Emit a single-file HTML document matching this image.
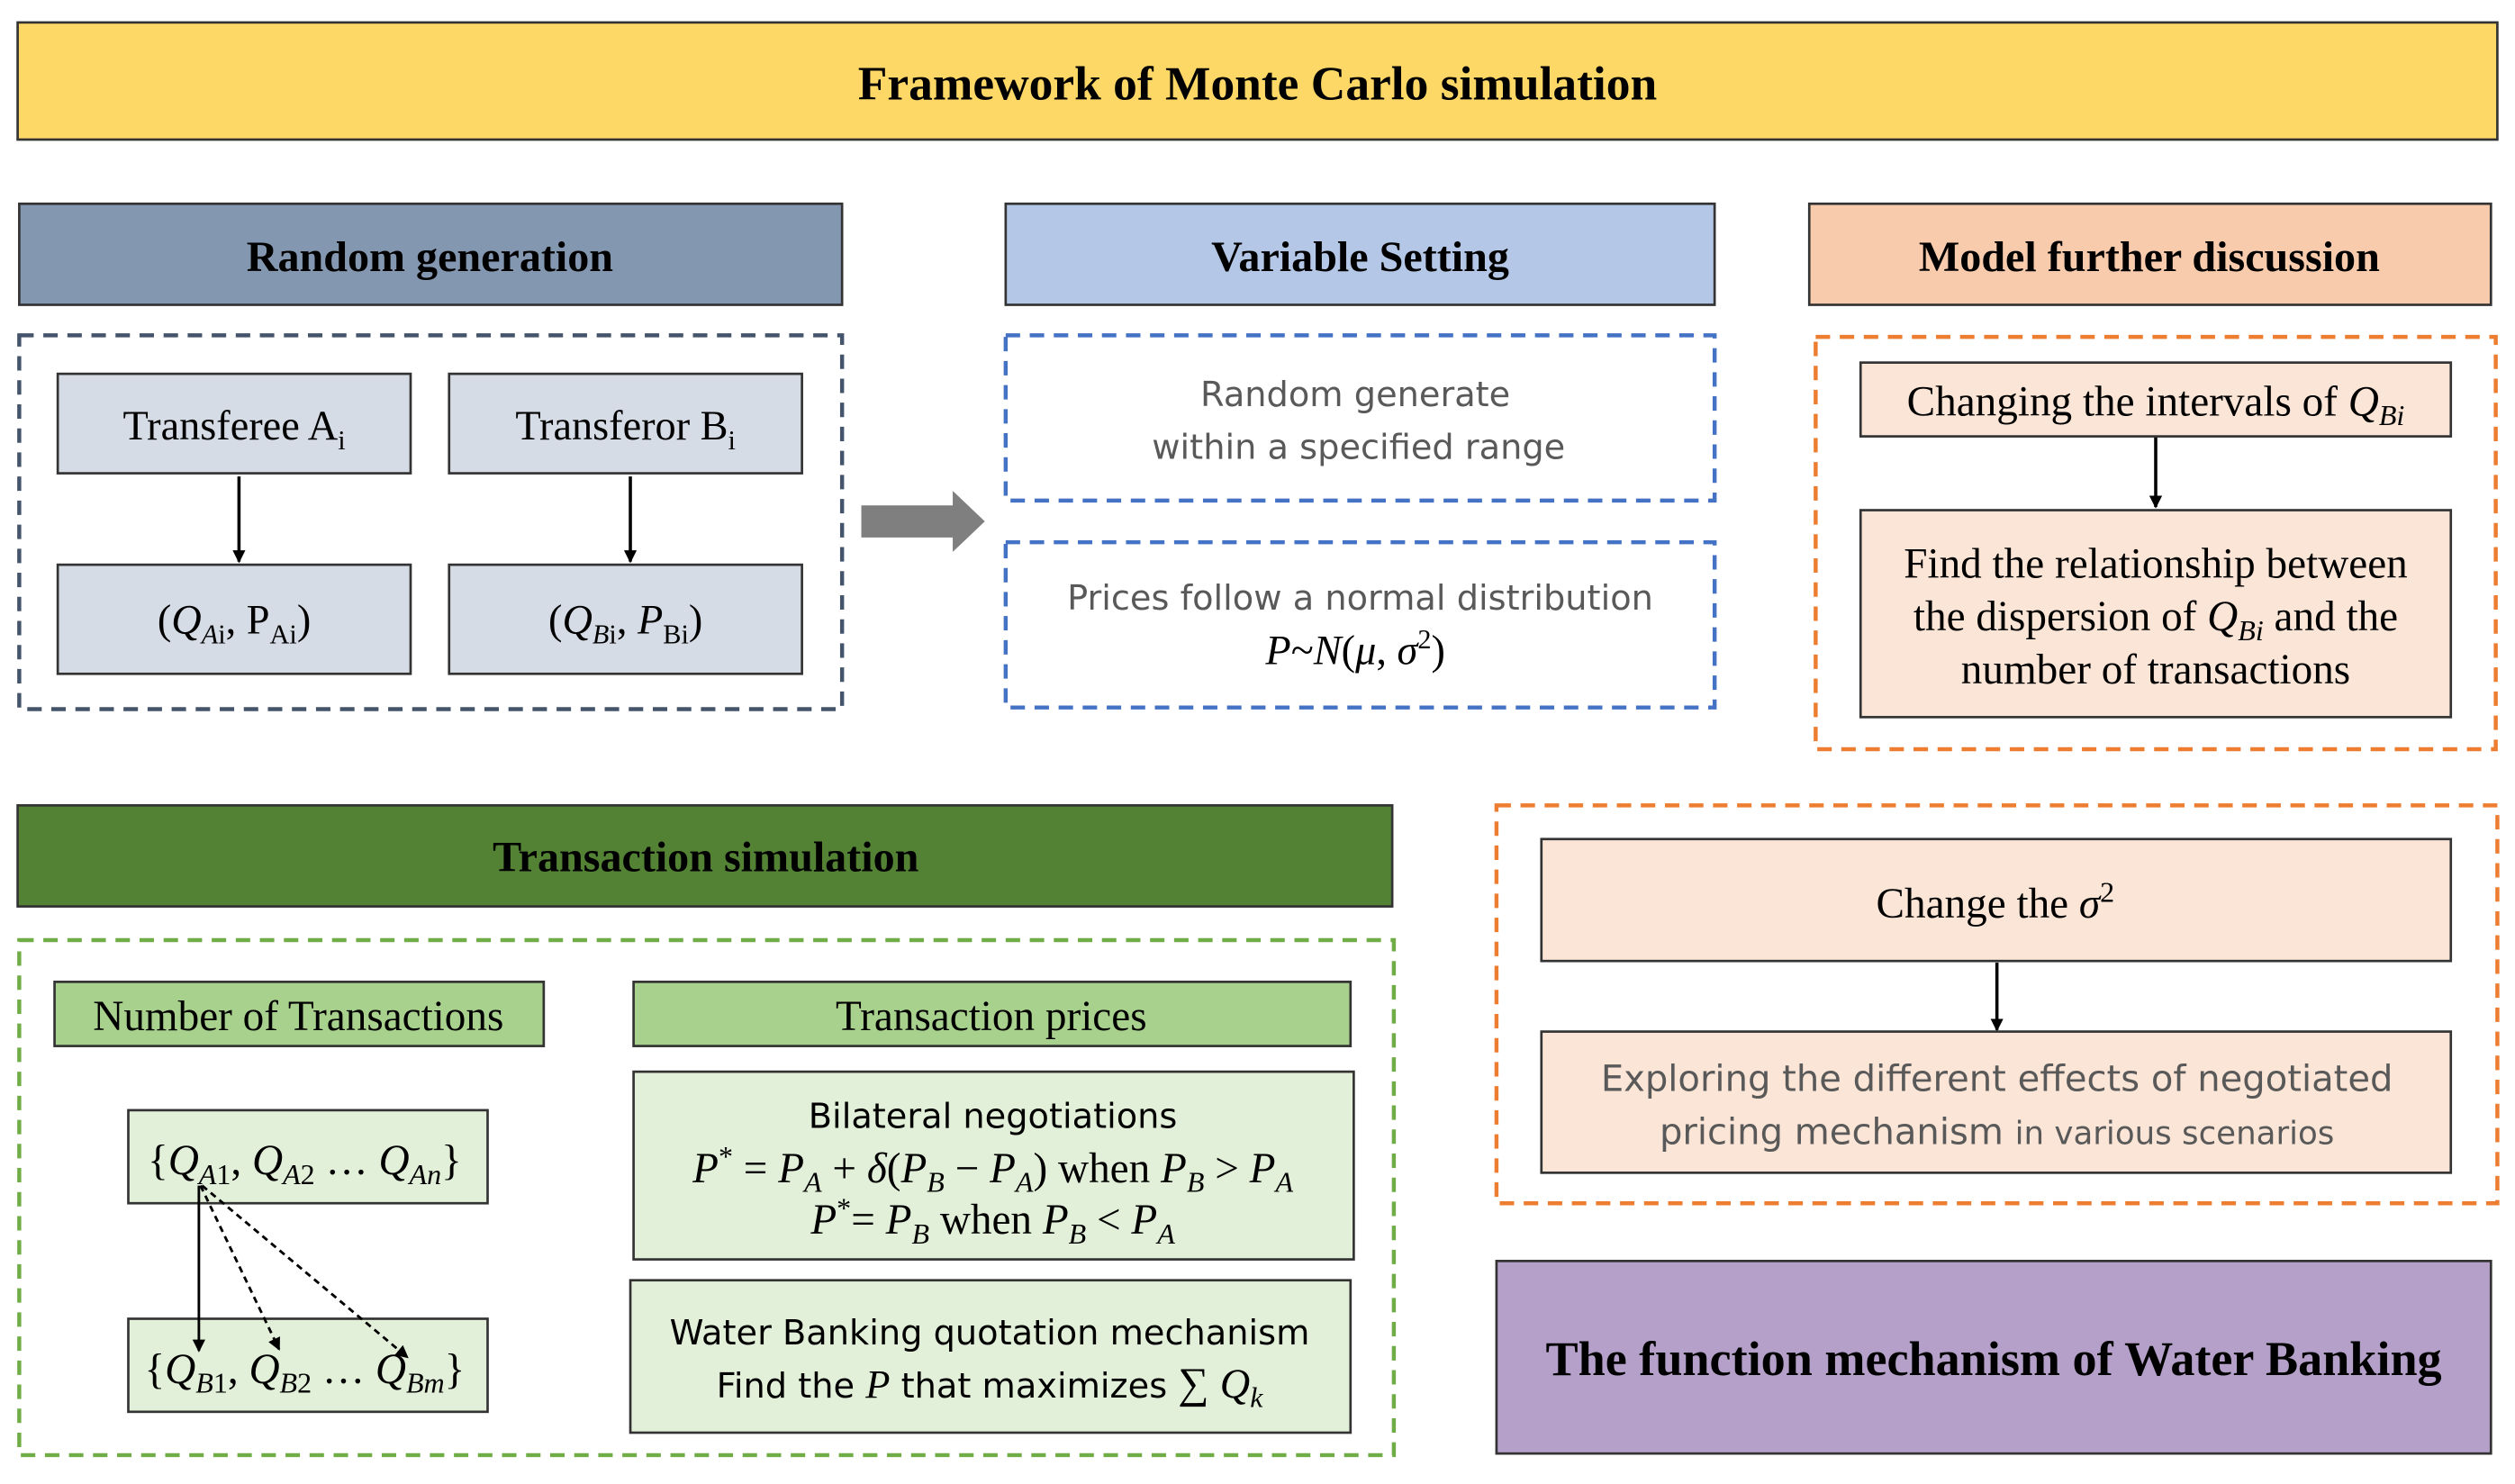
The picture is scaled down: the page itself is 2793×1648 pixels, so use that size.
<!DOCTYPE html>
<html><head><meta charset="utf-8"><style>
html,body{margin:0;padding:0;background:#fff;}
svg{display:block;}
.s{font-family:"Liberation Serif",serif;}
.b{font-weight:bold;}
.c{font-family:"DejaVu Sans","Liberation Sans",sans-serif;fill:#595959;}
.m{font-family:"Liberation Serif",serif;font-style:italic;}
</style></head><body>
<svg width="2793" height="1648" viewBox="0 0 1568 925" preserveAspectRatio="none" xmlns="http://www.w3.org/2000/svg">
<defs>
<marker id="ah" markerWidth="8" markerHeight="8" refX="7" refY="4" orient="auto" markerUnits="userSpaceOnUse"><path d="M0,0 L8,4 L0,8 z" fill="#000"/></marker>
</defs>
<g stroke="#333" stroke-width="1.5">
<rect x="11" y="14" width="1546" height="73" fill="#FDD867"/>
<rect x="12" y="127" width="513" height="63" fill="#8497B0"/>
<rect x="627" y="127" width="442" height="63" fill="#B4C7E7"/>
<rect x="1128" y="127" width="425" height="63" fill="#F8CBAD"/>
<rect x="11" y="502" width="857" height="63" fill="#548235"/>
<rect x="933" y="786" width="620" height="120" fill="#B4A0C8"/>
</g>
<g class="s b" text-anchor="middle" fill="#000">
<text x="784" y="62" font-size="30">Framework of Monte Carlo simulation</text>
<text x="268" y="169" font-size="27">Random generation</text>
<text x="848" y="169" font-size="27">Variable Setting</text>
<text x="1340" y="169" font-size="27">Model further discussion</text>
<text x="440" y="543" font-size="27">Transaction simulation</text>
<text x="1243" y="857" font-size="30.4">The function mechanism of Water Banking</text>
</g>
<g fill="none" stroke-width="2.5" stroke-dasharray="9,6">
<rect x="12" y="209" width="513" height="233" stroke="#44546A"/>
<rect x="627" y="209" width="442" height="103" stroke="#4472C4"/>
<rect x="627" y="338" width="442" height="103" stroke="#4472C4"/>
<rect x="1132" y="210" width="424" height="257" stroke="#ED7D31"/>
<rect x="933" y="502" width="624" height="248" stroke="#ED7D31"/>
<rect x="12" y="586" width="857" height="321" stroke="#70AD47"/>
</g>
<g stroke="#333" stroke-width="1.5" fill="#D6DCE5">
<rect x="36" y="233" width="220" height="62"/>
<rect x="280" y="233" width="220" height="62"/>
<rect x="36" y="352" width="220" height="68"/>
<rect x="280" y="352" width="220" height="68"/>
</g>
<g class="s" font-size="26" text-anchor="middle">
<text x="146" y="274">Transferee A<tspan font-size="17" dy="6">i</tspan></text>
<text x="390" y="274">Transferor B<tspan font-size="17" dy="6">i</tspan></text>
<text x="146" y="395">(<tspan class="m">Q</tspan><tspan font-size="17" dy="6"><tspan class="m">A</tspan>i</tspan><tspan dy="-6">, P</tspan><tspan font-size="17" dy="6">Ai</tspan><tspan dy="-6">)</tspan></text>
<text x="390" y="395">(<tspan class="m">Q</tspan><tspan font-size="17" dy="6"><tspan class="m">B</tspan>i</tspan><tspan dy="-6">, </tspan><tspan class="m">P</tspan><tspan font-size="17" dy="6">Bi</tspan><tspan dy="-6">)</tspan></text>
</g>
<g stroke="#000" stroke-width="2" marker-end="url(#ah)">
<line x1="149" y1="297" x2="149" y2="350"/>
<line x1="393" y1="297" x2="393" y2="350"/>
<line x1="1344" y1="272" x2="1344" y2="316"/>
<line x1="1245" y1="600" x2="1245" y2="642"/>
</g>
<path d="M537,315 L594,315 L594,306 L614,325 L594,344 L594,335 L537,335 z" fill="#7F7F7F"/>
<g class="c" font-size="21.5" text-anchor="middle">
<text x="845" y="253">Random generate</text>
<text x="847" y="286">within a specified range</text>
<text x="848" y="380">Prices follow a normal distribution</text>
</g>
<text class="s" font-size="26" x="845" y="414" text-anchor="middle"><tspan class="m">P</tspan>~<tspan class="m">N</tspan>(<tspan class="m">μ</tspan>, <tspan class="m">σ</tspan><tspan font-size="17" dy="-10">2</tspan><tspan dy="10">)</tspan></text>
<g stroke="#333" stroke-width="1.5" fill="#FBE5D6">
<rect x="1160" y="226" width="368" height="46"/>
<rect x="1160" y="318" width="368" height="129"/>
<rect x="961" y="523" width="567" height="76"/>
<rect x="961" y="643" width="567" height="88"/>
</g>
<g class="s" font-size="26.5" text-anchor="middle">
<text x="1344" y="259">Changing the intervals  of <tspan class="m">Q</tspan><tspan class="m" font-size="18" dy="6">Bi</tspan></text>
<text x="1344" y="360">Find the relationship between</text>
<text x="1344" y="393">the dispersion of <tspan class="m">Q</tspan><tspan class="m" font-size="18" dy="6">Bi</tspan><tspan dy="-6"> and the</tspan></text>
<text x="1344" y="426">number of transactions</text>
<text x="1244" y="572">Change the <tspan class="m">σ</tspan><tspan font-size="18" dy="-10">2</tspan></text>
</g>
<g class="c" font-size="22.5" text-anchor="middle">
<text x="1245" y="680">Exploring the different effects of negotiated</text>
<text x="1245" y="713">pricing mechanism <tspan font-size="20">in various scenarios</tspan></text>
</g>
<g stroke="#333" stroke-width="1.5">
<rect x="34" y="612" width="305" height="40" fill="#A9D18E"/>
<rect x="395" y="612" width="447" height="40" fill="#A9D18E"/>
<rect x="80" y="692" width="224" height="58" fill="#E2F0D9"/>
<rect x="80" y="822" width="224" height="58" fill="#E2F0D9"/>
<rect x="395" y="668" width="449" height="117" fill="#E2F0D9"/>
<rect x="393" y="798" width="449" height="95" fill="#E2F0D9"/>
</g>
<g class="s" font-size="26.5" text-anchor="middle">
<text x="186" y="642">Number of Transactions</text>
<text x="618" y="642">Transaction prices</text>
<text x="190" y="732">{<tspan class="m">Q</tspan><tspan font-size="18" dy="6"><tspan class="m">A</tspan>1</tspan><tspan dy="-6">, </tspan><tspan class="m">Q</tspan><tspan font-size="18" dy="6"><tspan class="m">A</tspan>2</tspan><tspan dy="-6"> … </tspan><tspan class="m">Q</tspan><tspan class="m" font-size="18" dy="6">An</tspan><tspan dy="-6">}</tspan></text>
<text x="190" y="862">{<tspan class="m">Q</tspan><tspan font-size="18" dy="6"><tspan class="m">B</tspan>1</tspan><tspan dy="-6">, </tspan><tspan class="m">Q</tspan><tspan font-size="18" dy="6"><tspan class="m">B</tspan>2</tspan><tspan dy="-6"> … </tspan><tspan class="m">Q</tspan><tspan class="m" font-size="18" dy="6">Bm</tspan><tspan dy="-6">}</tspan></text>
<text x="619" y="737"><tspan class="m">P</tspan><tspan font-size="18" dy="-10">*</tspan><tspan dy="10"> = </tspan><tspan class="m">P</tspan><tspan class="m" font-size="18" dy="6">A</tspan><tspan dy="-6"> + </tspan><tspan class="m">δ</tspan>(<tspan class="m">P</tspan><tspan class="m" font-size="18" dy="6">B</tspan><tspan dy="-6"> − </tspan><tspan class="m">P</tspan><tspan class="m" font-size="18" dy="6">A</tspan><tspan dy="-6">) when </tspan><tspan class="m">P</tspan><tspan class="m" font-size="18" dy="6">B</tspan><tspan dy="-6"> &gt; </tspan><tspan class="m">P</tspan><tspan class="m" font-size="18" dy="6">A</tspan></text>
<text x="619" y="769"><tspan class="m">P</tspan><tspan font-size="18" dy="-10">*</tspan><tspan dy="10">= </tspan><tspan class="m">P</tspan><tspan class="m" font-size="18" dy="6">B</tspan><tspan dy="-6"> when </tspan><tspan class="m">P</tspan><tspan class="m" font-size="18" dy="6">B</tspan><tspan dy="-6"> &lt; </tspan><tspan class="m">P</tspan><tspan class="m" font-size="18" dy="6">A</tspan></text>
</g>
<g font-family="DejaVu Sans,Liberation Sans,sans-serif" font-size="21.5" text-anchor="middle" fill="#000">
<text x="619" y="703">Bilateral negotiations</text>
<text x="617" y="838">Water Banking quotation mechanism</text>
<text x="617" y="871">Find the <tspan class="m" font-family="Liberation Serif" font-size="25">P</tspan> that maximizes <tspan font-family="Liberation Serif" font-size="27">∑</tspan> <tspan class="m" font-family="Liberation Serif" font-size="26">Q</tspan><tspan class="m" font-family="Liberation Serif" font-size="18" dy="6">k</tspan></text>
</g>
<g stroke="#000" stroke-width="1.6" marker-end="url(#ah)">
<line x1="124" y1="739" x2="124" y2="842"/>
<line x1="125" y1="739" x2="174" y2="841" stroke-dasharray="4,3"/>
<line x1="126" y1="739" x2="254" y2="846" stroke-dasharray="4,3"/>
</g>
</svg>
</body></html>
